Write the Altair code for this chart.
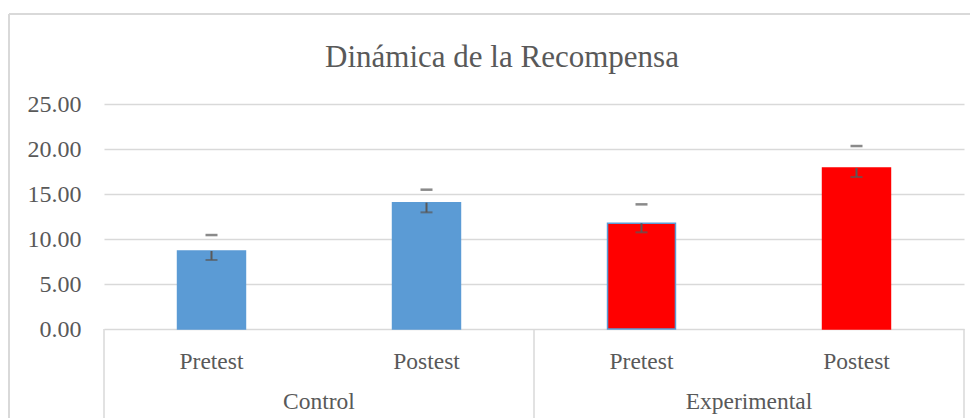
import altair as alt
import pandas as pd

# ---- data ----
grupos = ["Control", "Control", "Experimental", "Experimental"]
fases = ["Pretest", "Postest", "Pretest", "Postest"]
medias = [8.67, 14.04, 11.74, 17.89]
superior = [10.44, 15.48, 13.85, 20.33]
inferior = [7.67, 12.96, 10.74, 16.89]
colores = ["#5B9BD5", "#5B9BD5", "#FF0000", "#FF0000"]
bordes = ["#5B9BD5", "#5B9BD5", "#5B9BD5", "#FF0000"]
grupos_unicos = ["Control", "Experimental"]
titulo = "Dinámica de la Recompensa"
y_ticks = [0, 5, 10, 15, 20, 25]

W, H = 860, 225
PL, PT, PR, PB = 96, 96, 6, 90
FONT = "Liberation Serif"
GRAY = "#595959"
LINE = "#d9d9d9"

cats = [g + "|" + f for g, f in zip(grupos, fases)]
df = pd.DataFrame({
    "cat": cats, "grupo": grupos, "fase": fases,
    "media": medias, "sup": superior, "inf": inferior,
    "color": colores, "borde": bordes,
})
df_g = pd.DataFrame({"cat": [g + "|Pretest" for g in grupos_unicos], "grupo": grupos_unicos})

xscale = alt.Scale(domain=cats, paddingInner=0.684, paddingOuter=0.342)
X = alt.X("cat:N", scale=xscale, axis=None, sort=cats)
yscale = alt.Scale(domain=[0, 25], nice=False)

base = alt.Chart(df)

bars = base.mark_bar(strokeWidth=1.5).encode(
    x=X,
    y=alt.Y("media:Q", scale=yscale, title=None,
            axis=alt.Axis(values=y_ticks, format=".2f", grid=True, ticks=False,
                          tickSize=0, domain=False, labelPadding=23)),
    color=alt.Color("color:N", scale=None),
    stroke=alt.Stroke("borde:N", scale=None),
)

stem = base.mark_rule(color=GRAY, strokeWidth=2).encode(
    x=X, y=alt.Y("inf:Q", scale=yscale), y2="media:Q")
cap_lo = base.mark_tick(color=GRAY, size=12, thickness=2).encode(
    x=X, y=alt.Y("inf:Q", scale=yscale))
cap_hi = base.mark_tick(color=GRAY, size=12, thickness=2.5).encode(
    x=X, y=alt.Y("sup:Q", scale=yscale))

fase_lbl = base.mark_text(font=FONT, fontSize=23.5, color=GRAY, baseline="middle").encode(
    x=X, y=alt.value(258), text="fase:N")

grupo_lbl = alt.Chart(df_g).mark_text(font=FONT, fontSize=23.5, color=GRAY,
                                       baseline="middle", dx=W / 8).encode(
    x=X, y=alt.value(298), text="grupo:N")

dummy = alt.Chart(pd.DataFrame({"t": [titulo]}))
title = dummy.mark_text(font=FONT, fontSize=31, color=GRAY, baseline="alphabetic",
                        align="center").encode(
    x=alt.value(398), y=alt.value(-37), text="t:N")

def vline(xp, y1, y2):
    return dummy.mark_rule(color=LINE, strokeWidth=1.5).encode(
        x=alt.value(xp), y=alt.value(y1), y2=alt.value(y2))

table = vline(0, H, H + PB) + vline(W / 2, H, H + PB) + vline(W, H, H + PB)
frame_left = dummy.mark_rule(color=LINE, strokeWidth=2).encode(
    x=alt.value(-95), y=alt.value(-90), y2=alt.value(H + PB))
frame_top = dummy.mark_rule(color=LINE, strokeWidth=2).encode(
    x=alt.value(-95), x2=alt.value(W + PR), y=alt.value(-90))

chart = alt.layer(
    frame_left, frame_top, table, bars, stem, cap_lo, cap_hi, fase_lbl, grupo_lbl, title
).properties(
    width=W, height=H,
    autosize=alt.AutoSizeParams(type="none"),
    padding={"left": PL, "top": PT, "right": PR, "bottom": PB},
).configure_view(stroke=None).configure_axis(
    labelFont=FONT, labelFontSize=24, labelColor=GRAY,
    gridColor=LINE, gridWidth=1.5,
)

chart.save("out.html", embed_options={"renderer": "svg", "actions": False})
